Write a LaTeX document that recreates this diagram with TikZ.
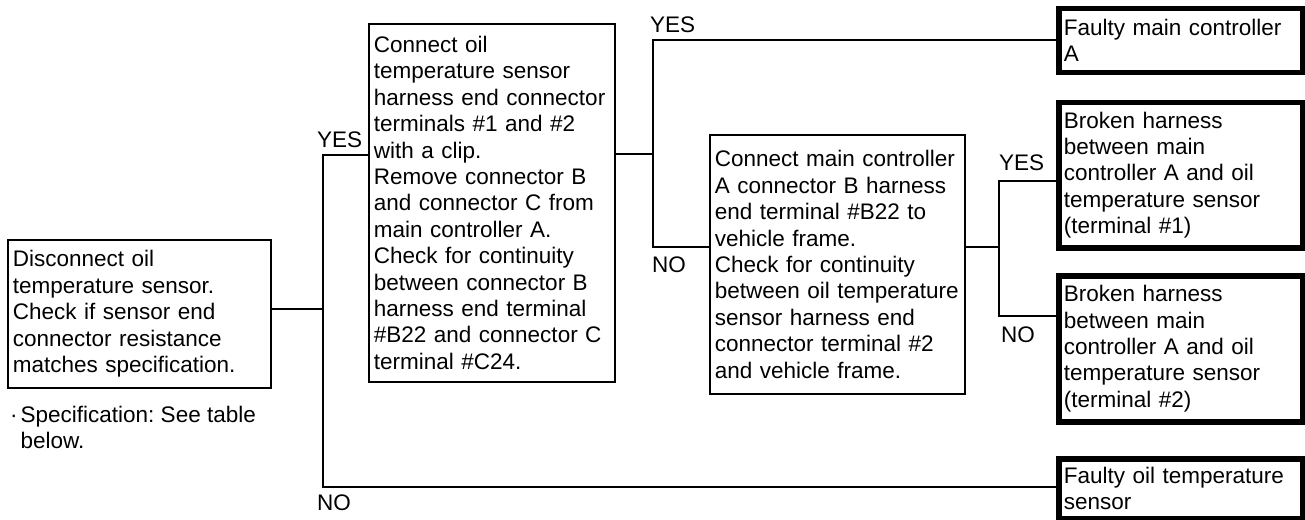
\documentclass[tikz,border=0pt]{standalone}
\usepackage{fontspec}
\setmainfont{Liberation Sans}
\frenchspacing
\begin{document}
\begin{tikzpicture}[x=1pt,y=-1pt,
  every node/.style={font=\fontsize{22.5}{26.4}\selectfont},
  box/.style={draw, line width=1.8pt, rectangle, anchor=north west, inner xsep=5pt, inner ysep=0pt, align=left},
  endbox/.style={box, line width=5.5pt},
  lab/.style={inner sep=0pt, anchor=base west},
  conn/.style={line width=1.3pt}]
\useasboundingbox (0,0) rectangle (1305,519);

% decision boxes
\node[box, minimum width=263pt, minimum height=148pt, text width=253pt] (b1) at (7,239)
  {Disconnect oil\\temperature sensor.\\Check if sensor end\\connector resistance\\matches specification.};
\node[inner sep=0pt, anchor=north west, align=left] (spec) at (10,406)
  {·\hspace{3pt}Specification: See table\\\hphantom{·\hspace{3pt}}below.};

\node[box, minimum width=246pt, minimum height=358pt, text width=236pt] (b2) at (368,23)
  {Connect oil\\temperature sensor\\harness end connector\\terminals \#1 and \#2\\with a clip.\\Remove connector B\\and connector C from\\main controller A.\\Check for continuity\\between connector B\\harness end terminal\\\#B22 and connector C\\terminal \#C24.};

\node[box, minimum width=255pt, minimum height=259pt, text width=245pt] (b3) at (709,134)
  {Connect main controller\\A connector B harness\\end terminal \#B22 to\\vehicle frame.\\Check for continuity\\between oil temperature\\sensor harness end\\connector terminal \#2\\and vehicle frame.};

% result boxes
\node[endbox, minimum width=243.5pt, minimum height=63.5pt, text width=233.5pt] (r1) at (1056,6)
  {Faulty main controller\\A};
\node[endbox, minimum width=243.5pt, minimum height=145.5pt, text width=233.5pt] (r2) at (1056,99.5)
  {Broken harness\\between main\\controller A and oil\\temperature sensor\\(terminal \#1)};
\node[endbox, minimum width=243.5pt, minimum height=146pt, text width=233.5pt] (r3) at (1056,273)
  {Broken harness\\between main\\controller A and oil\\temperature sensor\\(terminal \#2)};
\node[endbox, minimum width=243.5pt, minimum height=60pt, text width=233.5pt] (r4) at (1056,456)
  {Faulty oil temperature\\sensor};

% junction coordinates
\coordinate (j1) at (323,309);
\coordinate (jAt) at (323,155);
\coordinate (jAb) at (323,487);
\coordinate (jB) at (653,154);
\coordinate (jBt) at (653,40);
\coordinate (jBb) at (653,247);
\coordinate (jC) at (999,247);
\coordinate (jCt) at (999,181);
\coordinate (jCb) at (999,316);

% connectors
\draw[conn] (b1.east |- j1) -- (j1);
\draw[conn] (b2.west |- jAt) -- (jAt) -- (jAb) -- (r4.west |- jAb);
\draw[conn] (b2.east |- jB) -- (jB);
\draw[conn] (r1.west |- jBt) -- (jBt) -- (jBb) -- (b3.west |- jBb);
\draw[conn] (b3.east |- jC) -- (jC);
\draw[conn] (r2.west |- jCt) -- (jCt) -- (jCb) -- (r3.west |- jCb);

% labels
\node[lab] (yes1) at (317,147) {YES};
\node[lab] (no1) at (317,510) {NO};
\node[lab] (yes2) at (650,33) {YES};
\node[lab] (no2) at (652,272) {NO};
\node[lab] (yes3) at (999,170) {YES};
\node[lab] (no3) at (1001,342) {NO};
\end{tikzpicture}
\end{document}
